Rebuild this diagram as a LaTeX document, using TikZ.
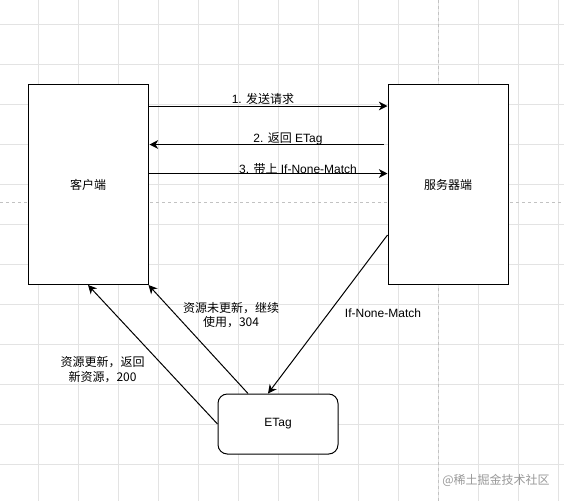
\documentclass[tikz,border=0pt]{standalone}
\usepackage{fontspec}
\setmainfont{Liberation Sans}
\newfontfamily\cjk{Noto Sans CJK SC}
\usetikzlibrary{arrows.meta}
\begin{document}
\begin{tikzpicture}[x=0.75pt,y=-0.75pt,
  gridline/.style={draw=black!11,line width=0.75pt},
  pagebreak/.style={draw=black!24,line width=0.75pt,dash pattern=on 2.25pt off 2.25pt},
  box/.style={draw=black,line width=0.75pt,fill=white,minimum width=90pt,minimum height=150pt,inner sep=0pt,font=\cjk\fontsize{9}{11}\selectfont},
  rbox/.style={draw=black,line width=0.75pt,fill=white,rounded corners=7pt,minimum width=90pt,minimum height=45pt,inner sep=0pt,font=\fontsize{9}{11}\selectfont},
  arr/.style={draw=black,line width=0.75pt,-{Stealth[length=6.5pt,width=6.5pt,inset=2pt]}},
  lbl/.style={font=\fontsize{9}{10.5}\selectfont,align=center,inner sep=0pt},
]
\useasboundingbox (0,0) rectangle (564,501);
\fill[white] (0,0) rectangle (564,501);
% grid
\foreach \k in {0,...,13} \draw[gridline] (38.3+40*\k,0) -- (38.3+40*\k,501);
\foreach \k in {0,...,11} \draw[gridline] (0,24.5+40*\k) -- (564,24.5+40*\k);
\draw[pagebreak] (438.3,0) -- (438.3,501);
\draw[pagebreak] (0,202) -- (564,202);

% nodes
\node[box] (client) at (88,184.5) {客户端};
\node[box] (server) at (448,184.5) {服务器端};
\node[rbox] (etag) at (278,424) {ETag};

% top connectors
\draw[arr] ([shift={(0,22)}]client.north east) -- ([shift={(0,22)}]server.north west);
\draw[arr] ([shift={(-4,60.5)}]server.north west) -- ([shift={(1,60.5)}]client.north east);
\draw[arr] ([shift={(0,89.5)}]client.north east) -- ([shift={(0,89.5)}]server.north west);

\node[lbl] (l1) at (263,99) {1. {\cjk 发送请求}};
\node[lbl] (l2) at (288,138.5) {2. {\cjk 返回} ETag};
\node[lbl] (l3) at (298,169) {3. {\cjk 带上} If-None-Match};

% bottom connectors
\draw[arr] ([shift={(0,50.5)}]server.west) -- ([shift={(-10,0)}]etag.north);
\draw[arr] ([shift={(-30,0)}]etag.north) -- (client.south east);
\draw[arr] (etag.west) -- (client.south);

\node[lbl] (l4) at (383,313) {If-None-Match};
\node[lbl,font=\cjk\fontsize{9}{10.5}\selectfont] (l5) at (231,315) {资源未更新，继续\\使用，304};
\node[lbl,font=\cjk\fontsize{9}{11.2}\selectfont] (l6) at (102.5,369.5) {资源更新，返回\\新资源，200};

\node[lbl,text=black!40,font=\cjk\fontsize{9}{11}\selectfont] (wm) at (496,480) {@稀土掘金技术社区};
\end{tikzpicture}
\end{document}
